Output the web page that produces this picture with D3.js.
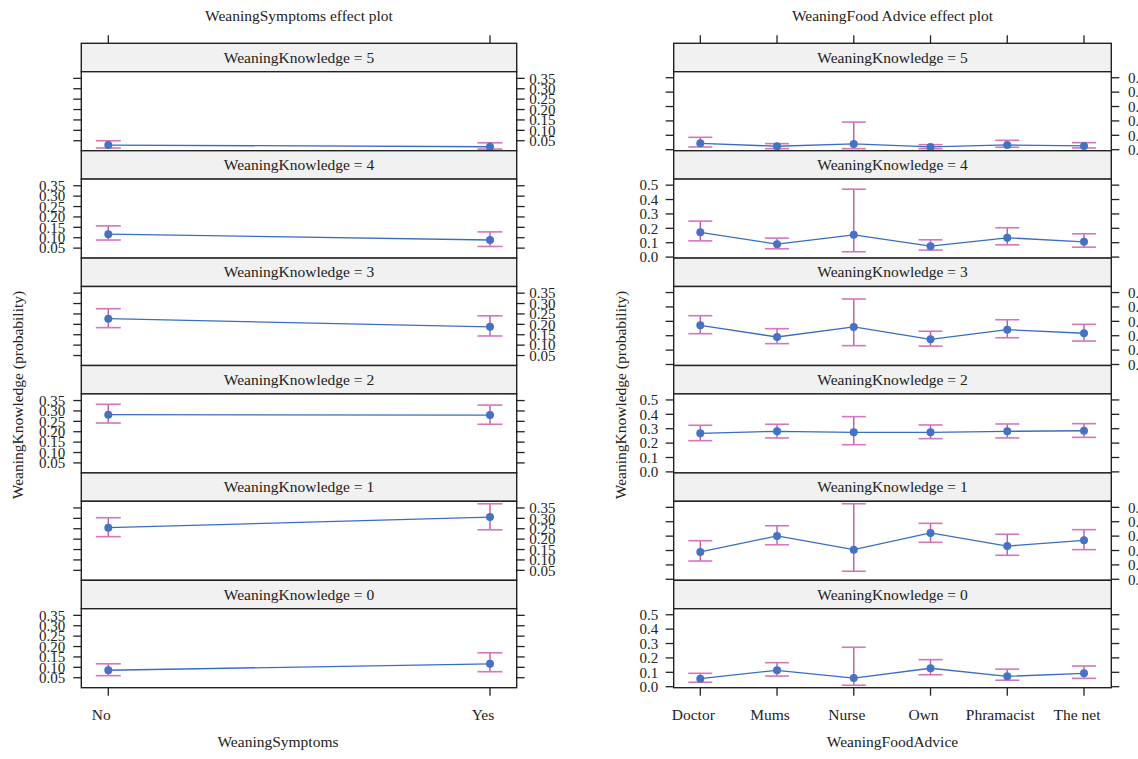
<!DOCTYPE html>
<html><head><meta charset="utf-8">
<script src="https://cdn.jsdelivr.net/npm/d3@7"></script>
<style>
html,body{margin:0;padding:0;background:#fff;overflow:hidden;}
text{font-family:"Liberation Serif","DejaVu Serif",serif;fill:#222;}
</style></head>
<body>
<svg id="chart" width="1138" height="759"></svg>
<script>
// ---------- data ----------
const knowledgeLevels = [5, 4, 3, 2, 1, 0];           // panel order, top to bottom
const symptomCats = ["No", "Yes"];
const symFit   = [[0.029, 0.021], [0.117, 0.089], [0.227, 0.188], [0.282, 0.280], [0.255, 0.306], [0.086, 0.117]];
const symLower = [[0.015, 0.010], [0.089, 0.058], [0.184, 0.144], [0.242, 0.236], [0.212, 0.245], [0.060, 0.079]];
const symUpper = [[0.050, 0.040], [0.157, 0.128], [0.275, 0.241], [0.332, 0.328], [0.303, 0.370], [0.117, 0.170]];
const symTicks = [0.05, 0.10, 0.15, 0.20, 0.25, 0.30, 0.35];

const adviceCats = ["Doctor", "Mums", "Nurse", "Own", "Phramacist", "The net"];
const advFit   = [[0.044, 0.024, 0.040, 0.019, 0.033, 0.026],
                  [0.172, 0.090, 0.155, 0.076, 0.134, 0.106],
                  [0.272, 0.191, 0.261, 0.175, 0.242, 0.217],
                  [0.268, 0.282, 0.275, 0.275, 0.282, 0.286],
                  [0.190, 0.301, 0.206, 0.322, 0.231, 0.271],
                  [0.056, 0.114, 0.060, 0.128, 0.072, 0.093]];
const advLower = [[0.019, 0.007, 0.007, 0.007, 0.017, 0.012],
                  [0.113, 0.058, 0.037, 0.049, 0.085, 0.069],
                  [0.214, 0.145, 0.131, 0.128, 0.186, 0.163],
                  [0.217, 0.236, 0.189, 0.231, 0.236, 0.240],
                  [0.127, 0.240, 0.056, 0.257, 0.167, 0.206],
                  [0.031, 0.074, 0.010, 0.083, 0.045, 0.058]];
const advUpper = [[0.086, 0.042, 0.192, 0.035, 0.065, 0.049],
                  [0.250, 0.132, 0.472, 0.120, 0.204, 0.162],
                  [0.339, 0.249, 0.455, 0.231, 0.311, 0.279],
                  [0.324, 0.331, 0.384, 0.326, 0.333, 0.335],
                  [0.268, 0.372, 0.525, 0.389, 0.313, 0.345],
                  [0.093, 0.167, 0.274, 0.188, 0.122, 0.144]];
const advTicks = [0.0, 0.1, 0.2, 0.3, 0.4, 0.5];

// ---------- layout ----------
const svg = d3.select("#chart");
const rowTop0 = 43.3, rowH = 107.4, stripH = 28.4;
const lineCol = "#3a6cc2", ptCol = "#4472c4", barCol = "#c654a8", capCol = "#d277bb";

function drawPlot(cfg) {
  const g = svg.append("g");
  const x = d3.scalePoint().domain(cfg.cats).range(cfg.xRange);
  // title
  g.append("text").attr("x", (cfg.left + cfg.right) / 2).attr("y", 21)
    .attr("text-anchor", "middle").style("font-size", "15.5px").text(cfg.title);
  // top ticks
  g.selectAll(".tt").data(cfg.cats).enter().append("line")
    .attr("x1", d => x(d)).attr("x2", d => x(d)).attr("y1", rowTop0 - 8).attr("y2", rowTop0)
    .attr("stroke", "#222").attr("stroke-width", 1.3);

  knowledgeLevels.forEach((k, i) => {
    const top = rowTop0 + i * rowH;
    const pTop = top + stripH, pBot = top + rowH;
    const y = d3.scaleLinear().domain(cfg.yDomain).range([pBot, pTop]);
    // strip
    g.append("rect").attr("x", cfg.left).attr("y", top).attr("width", cfg.right - cfg.left).attr("height", stripH)
      .attr("fill", "#f0f1f0").attr("stroke", "#222").attr("stroke-width", 1.4);
    g.append("text").attr("x", (cfg.left + cfg.right) / 2).attr("y", top + stripH / 2 + 5)
      .attr("text-anchor", "middle").style("font-size", "15.5px").text("WeaningKnowledge = " + k);
    // panel
    g.append("rect").attr("x", cfg.left).attr("y", pTop).attr("width", cfg.right - cfg.left).attr("height", rowH - stripH)
      .attr("fill", "#fff").attr("stroke", "#222").attr("stroke-width", 1.4);
    // y ticks both sides
    const labelRight = (i % 2 === 0);
    cfg.ticks.forEach(t => {
      g.append("line").attr("x1", cfg.left - 8).attr("x2", cfg.left).attr("y1", y(t)).attr("y2", y(t))
        .attr("stroke", "#222").attr("stroke-width", 1.3);
      g.append("line").attr("x1", cfg.right).attr("x2", cfg.right + 8).attr("y1", y(t)).attr("y2", y(t))
        .attr("stroke", "#222").attr("stroke-width", 1.3);
    });
    g.selectAll(null).data(cfg.ticks).enter().append("text")
      .attr("x", labelRight ? cfg.right + cfg.gapR : cfg.left - cfg.gapL)
      .attr("y", d => y(d)).attr("dy", "0.35em")
      .attr("text-anchor", labelRight ? "start" : "end")
      .style("font-size", "15px").text(d => cfg.fmt(d));
    // data
    const pts = cfg.cats.map((c, j) => ({c, fit: cfg.fit[i][j], lo: cfg.lower[i][j], hi: cfg.upper[i][j]}));
    g.append("path").datum(pts)
      .attr("d", d3.line().x(d => x(d.c)).y(d => y(d.fit)))
      .attr("fill", "none").attr("stroke", lineCol).attr("stroke-width", 1.3);
    pts.forEach(p => {
      g.append("line").attr("x1", x(p.c)).attr("x2", x(p.c)).attr("y1", y(p.lo)).attr("y2", y(p.hi))
        .attr("stroke", barCol).attr("stroke-width", 1.4);
      [p.lo, p.hi].forEach(v => {
        g.append("line").attr("x1", x(p.c) - cfg.cap).attr("x2", x(p.c) + cfg.cap).attr("y1", y(v)).attr("y2", y(v))
          .attr("stroke", capCol).attr("stroke-width", 1.6);
      });
      g.append("circle").attr("cx", x(p.c)).attr("cy", y(p.fit)).attr("r", 4).attr("fill", ptCol);
    });
  });
  const bot = rowTop0 + 6 * rowH;
  // bottom ticks and labels
  cfg.cats.forEach(c => {
    g.append("line").attr("x1", x(c)).attr("x2", x(c)).attr("y1", bot).attr("y2", bot + 8)
      .attr("stroke", "#222").attr("stroke-width", 1.3);
    g.append("text").attr("x", x(c) - 7).attr("y", 719.5).attr("text-anchor", "middle")
      .style("font-size", "15.5px").text(c);
  });
  g.append("text").attr("x", cfg.xlabX).attr("y", 747).attr("text-anchor", "middle")
    .style("font-size", "15.5px").text(cfg.xlab);
  g.append("text").attr("transform", `translate(${cfg.ylabX},395) rotate(-90)`)
    .attr("text-anchor", "middle").style("font-size", "15.5px").text("WeaningKnowledge (probability)");
}

drawPlot({
  title: "WeaningSymptoms effect plot", cats: symptomCats, left: 81.3, right: 516.7,
  xRange: [108.3, 490], yDomain: [0.002, 0.382], ticks: symTicks, fmt: d3.format(".2f"),
  fit: symFit, lower: symLower, upper: symUpper, cap: 12.5, gapL: 16, gapR: 12.5,
  xlab: "WeaningSymptoms", xlabX: 278, ylabX: 23
});
drawPlot({
  title: "WeaningFood Advice effect plot", cats: adviceCats, left: 673.7, right: 1111.3,
  xRange: [700.3, 1084], yDomain: [-0.007, 0.542], ticks: advTicks, fmt: d3.format(".1f"),
  fit: advFit, lower: advLower, upper: advUpper, cap: 12, gapL: 15.5, gapR: 16.7,
  xlab: "WeaningFoodAdvice", xlabX: 892.5, ylabX: 626
});
</script>
</body></html>
